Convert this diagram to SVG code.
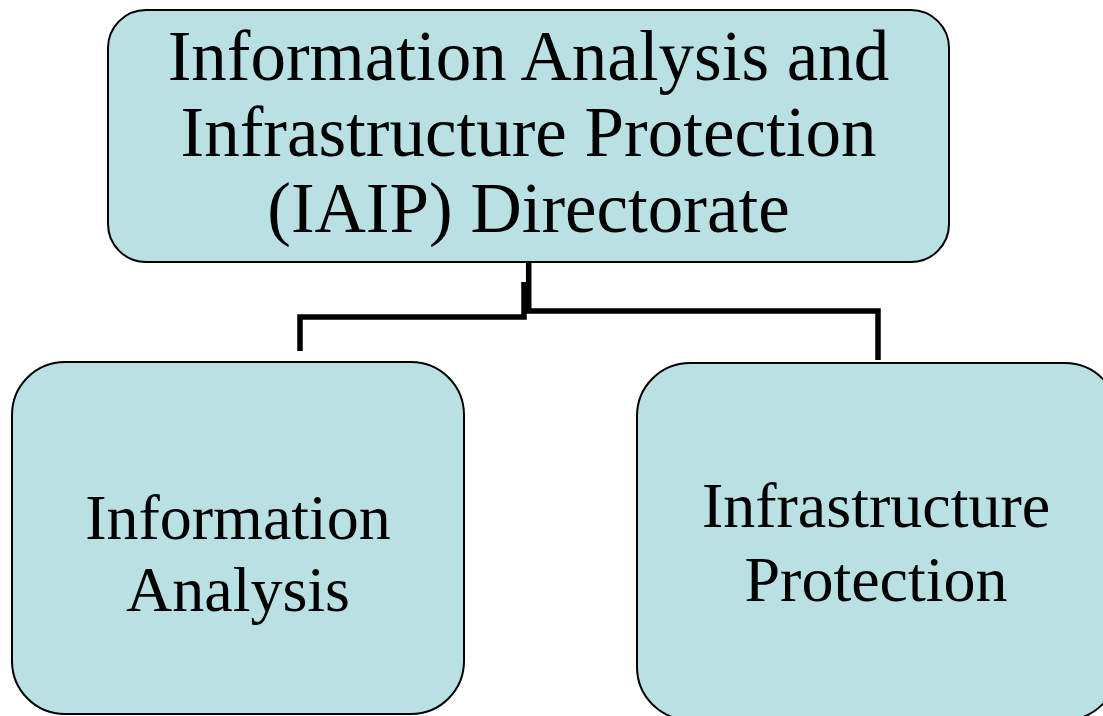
<svg xmlns="http://www.w3.org/2000/svg" width="1103" height="716" viewBox="0 0 1103 716">
<style>
.box{fill:#B9E0E3;stroke:#000;stroke-width:2}
.t{font-family:"Liberation Serif","Times New Roman",serif;fill:#000;text-anchor:middle}
.c{fill:none;stroke:#000;stroke-width:5.5;stroke-linejoin:miter}
</style>
<rect width="1103" height="716" fill="#fff"/>
<g id="connectors">
<path class="c" d="M528.7 261 V311 H878 V360"/>
<path class="c" d="M524 282 V317 H300 V351"/>
</g>
<g id="iaip">
<rect class="box" x="108" y="10" width="841" height="252" rx="38" ry="38"/>
<text class="t" font-size="71" x="528.5" y="80">Information Analysis and</text>
<text class="t" font-size="71" x="528.5" y="156">Infrastructure Protection</text>
<text class="t" font-size="71" x="528.5" y="232">(IAIP) Directorate</text>
</g>
<g id="info-analysis">
<rect class="box" x="12" y="362" width="452" height="352" rx="53" ry="53"/>
<text class="t" font-size="64" x="238" y="539">Information</text>
<text class="t" font-size="64" x="238" y="611">Analysis</text>
</g>
<g id="infra-protection">
<rect class="box" x="637" y="363" width="481" height="357" rx="53" ry="53"/>
<text class="t" font-size="64" x="876" y="527">Infrastructure</text>
<text class="t" font-size="64" x="876" y="601">Protection</text>
</g>
</svg>
